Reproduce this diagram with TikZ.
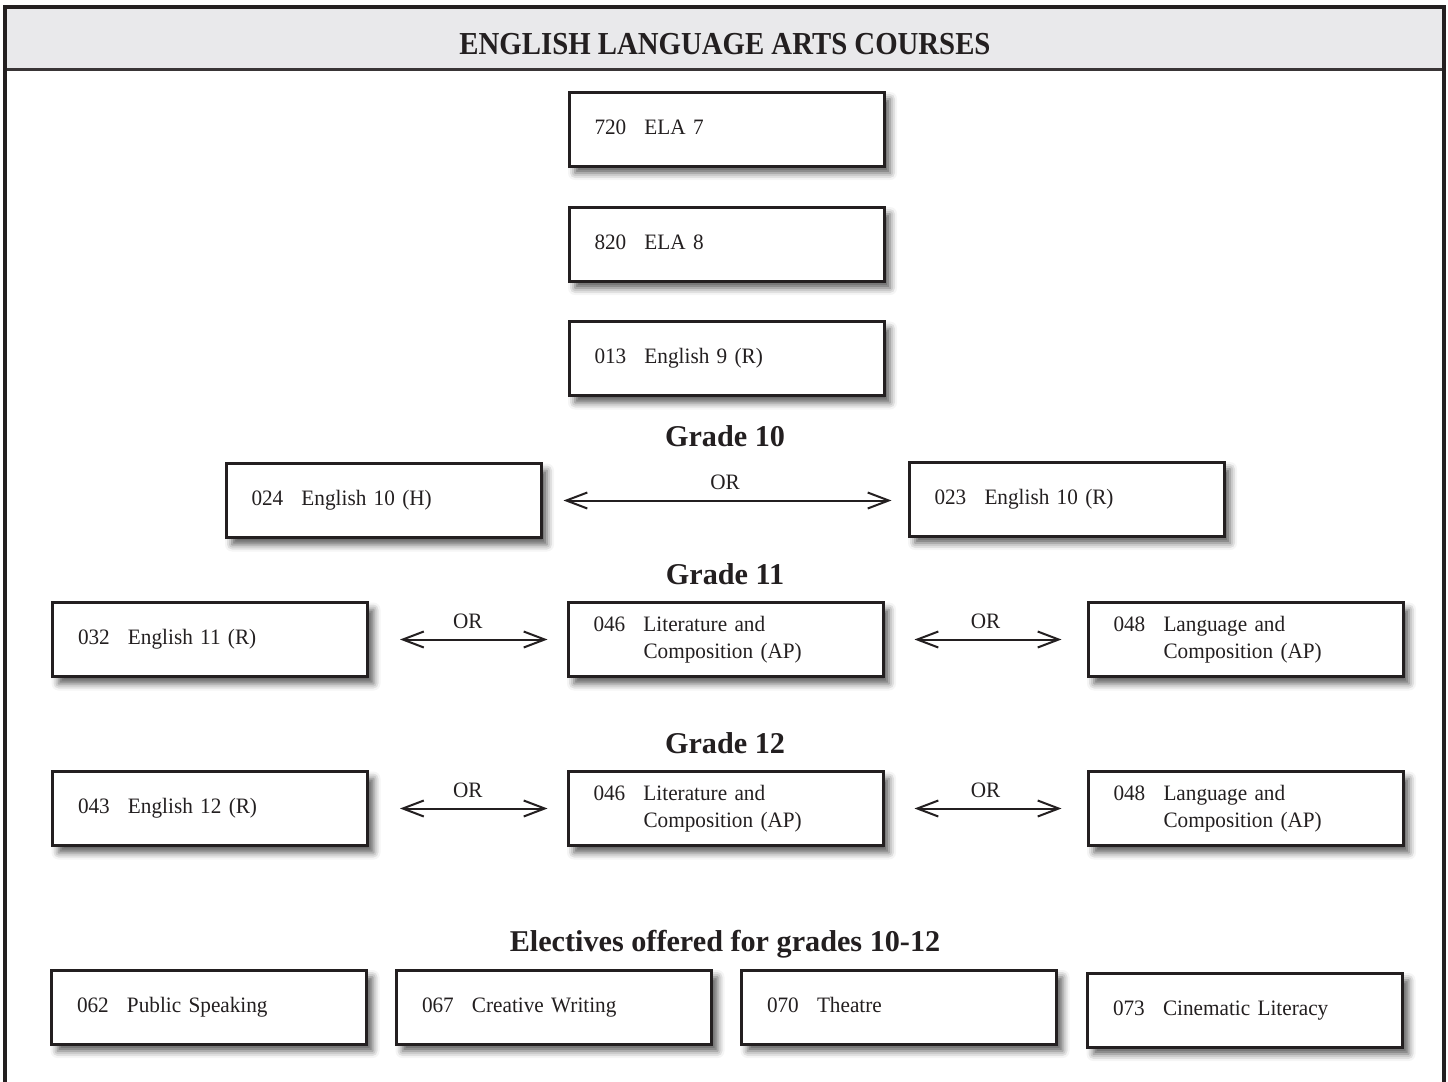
\documentclass[tikz,border=0pt]{standalone}
\usepackage{fontspec}
\setmainfont[FakeStretch=0.965]{Liberation Serif}
\newfontfamily\headfont[FakeStretch=0.9]{Liberation Serif}
\newfontfamily\gradefont{Liberation Serif}
\usetikzlibrary{arrows.meta,shadows.blur}
\definecolor{ink}{HTML}{231F20}
\definecolor{hdr}{HTML}{E9E9EB}
\newcommand{\crs}[2]{\begin{tabular}{@{}p{25pt}@{}l@{}}#1 & #2\end{tabular}}
\newcommand{\crsii}[3]{\begin{tabular}{@{}p{25pt}@{}l@{}}#1 & #2\\ & #3\end{tabular}}
\tikzset{
  course/.style={draw=ink, line width=1.5pt, fill=white, minimum width=157.5pt,
    minimum height=37pt, text width=132pt, align=left, inner xsep=12pt, inner ysep=0pt,
    text=ink, font=\fontsize{11}{13.5}\selectfont,
    blur shadow={shadow xshift=3pt, shadow yshift=-3.5pt, shadow blur radius=3.5pt, shadow opacity=65}},
  gradelabel/.style={anchor=base, text=ink, font=\gradefont\fontsize{15.1}{18}\selectfont\bfseries},
  orarrow/.style={draw=ink, line width=1pt,
    {Straight Barb[length=10.5pt,width=8pt]}-{Straight Barb[length=10.5pt,width=8pt]}},
  orlabel/.style={midway, anchor=base, yshift=5.5pt, inner sep=0pt, text=ink,
    font=\fontsize{11}{13}\selectfont},
}
\begin{document}
\begin{tikzpicture}[x=0.5pt,y=-0.5pt]
\useasboundingbox (0,0) rectangle (1448,1082);
% frame and header
\fill[hdr] (5,7) rectangle (1444,69);
\draw[ink!90, line width=1.5pt] (5,69) -- (1444,69);
\draw[ink, line width=1.8pt] (5,1082) -- (5,7) -- (1444,7) -- (1444,1082);
\node[anchor=base, text=ink, font=\headfont\fontsize{16}{19}\selectfont\bfseries] (title) at (725,54) {ENGLISH LANGUAGE ARTS COURSES};
% middle school
\node[course] (ela7) at (726.5,129) {\crs{720}{ELA 7}};
\node[course] (ela8) at (726.5,244) {\crs{820}{ELA 8}};
\node[course] (e9) at (726.5,358.5) {\crs{013}{English 9 (R)}};
% grade 10
\node[gradelabel] (g10) at (725,446) {Grade 10};
\node[course] (e10h) at (383.5,500.5) {\crs{024}{English 10 (H)}};
\node[course] (e10r) at (1066.5,499) {\crs{023}{English 10 (R)}};
\draw[orarrow, shorten <=10.5pt, shorten >=8pt] (e10h.east) -- node[orlabel] {OR} (e10h.east -| e10r.west);
% grade 11
\node[gradelabel] (g11) at (725,584) {Grade 11};
\node[course] (e11) at (210,639.5) {\crs{032}{English 11 (R)}};
\node[course] (lit11) at (725.5,639.5) {\crsii{046}{Literature and}{Composition (AP)}};
\node[course] (lang11) at (1245.5,639.5) {\crsii{048}{Language and}{Composition (AP)}};
\draw[orarrow, shorten <=15.5pt, shorten >=9.5pt] (e11.east) -- node[orlabel] {OR} (lit11.west);
\draw[orarrow, shorten <=15pt, shorten >=12.5pt] (lit11.east) -- node[orlabel] {OR} (lang11.west);
% grade 12
\node[gradelabel] (g12) at (725,753) {Grade 12};
\node[course] (e12) at (210,808.5) {\crs{043}{English 12 (R)}};
\node[course] (lit12) at (725.5,808.5) {\crsii{046}{Literature and}{Composition (AP)}};
\node[course] (lang12) at (1245.5,808.5) {\crsii{048}{Language and}{Composition (AP)}};
\draw[orarrow, shorten <=15.5pt, shorten >=9.5pt] (e12.east) -- node[orlabel] {OR} (lit12.west);
\draw[orarrow, shorten <=15pt, shorten >=12.5pt] (lit12.east) -- node[orlabel] {OR} (lang12.west);
% electives
\node[gradelabel] (elect) at (725,951) {Electives offered for grades 10-12};
\node[course] (pub) at (209,1007) {\crs{062}{Public Speaking}};
\node[course] (cre) at (554,1007) {\crs{067}{Creative Writing}};
\node[course] (thea) at (899,1007) {\crs{070}{Theatre}};
\node[course] (cin) at (1245,1010) {\crs{073}{Cinematic Literacy}};
\end{tikzpicture}
\end{document}
